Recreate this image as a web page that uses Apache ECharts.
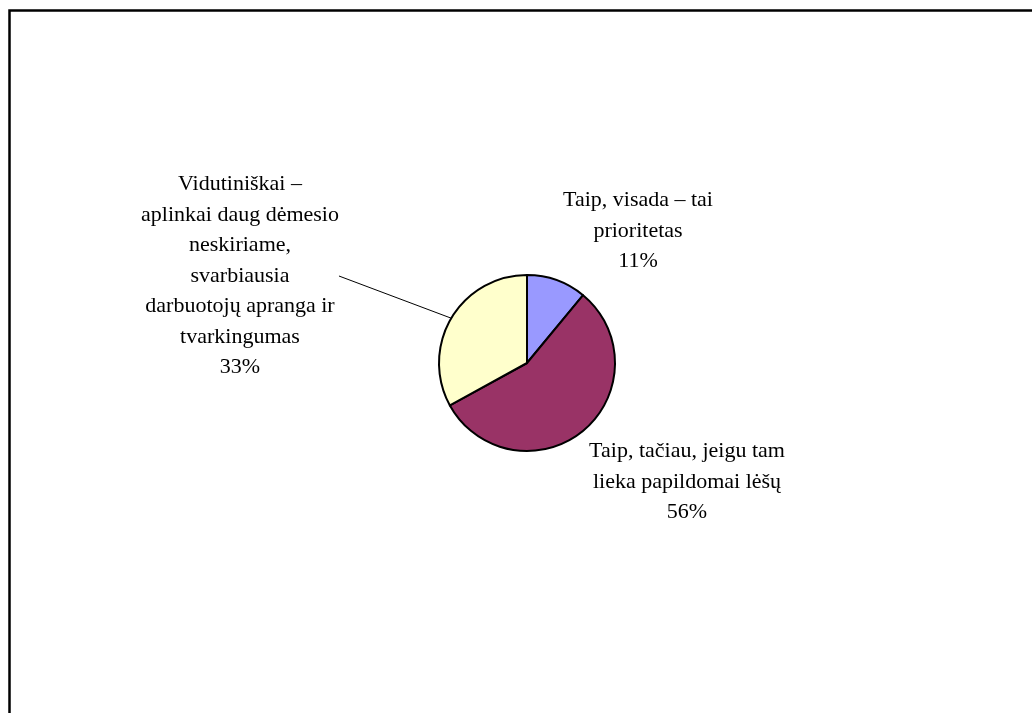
<!DOCTYPE html>
<html>
<head>
<meta charset="utf-8">
<script src="https://cdn.jsdelivr.net/npm/echarts@6/dist/echarts.min.js"></script>
<style>
html,body{margin:0;padding:0;background:#fff;}
#chart{width:1032px;height:713px;}
</style>
</head>
<body>
<div id="chart"></div>
<script>
const categories = [
  "Taip, visada – tai\nprioritetas",
  "Taip, tačiau, jeigu tam\nlieka papildomai lėšų",
  "Vidutiniškai –\naplinkai daug dėmesio\nneskiriame,\nsvarbiausia\ndarbuotojų apranga ir\ntvarkingumas"
];
const values = [11, 56, 33];
const sliceColors = ["#9999FF", "#993366", "#FFFFCC"];
const labelSpots = [[638, 231], [687, 482], [240, 276]];

const chart = echarts.init(document.getElementById('chart'), null, {renderer: 'canvas'});
chart.setOption({
  backgroundColor: '#ffffff',
  animation: false,
  graphic: [{
    type: 'rect',
    left: 7, top: 8,
    shape: {width: 1200, height: 900},
    style: {fill: 'none', stroke: '#000', lineWidth: 2.5},
    silent: true
  }],
  series: [{
    type: 'pie',
    center: [527, 363],
    radius: [0, 88],
    startAngle: 90,
    clockwise: true,
    avoidLabelOverlap: false,
    itemStyle: {borderColor: '#000', borderWidth: 2},
    label: {
      show: true,
      position: 'outside',
      formatter: '{b}\n{d}%',
      fontFamily: 'Liberation Serif',
      fontSize: 22,
      lineHeight: 30.5,
      color: '#000',
      align: 'center'
    },
    labelLine: {show: false, lineStyle: {color: '#000', width: 1}},
    labelLayout: function (params) {
      const p = labelSpots[params.dataIndex];
      return {x: p[0], y: p[1], align: 'center', verticalAlign: 'middle'};
    },
    data: categories.map((c, i) => ({
      name: c,
      value: values[i],
      itemStyle: {color: sliceColors[i]},
      labelLine: {show: i === 2, length: 20, length2: 0}
    }))
  }]
});
</script>
</body>
</html>
